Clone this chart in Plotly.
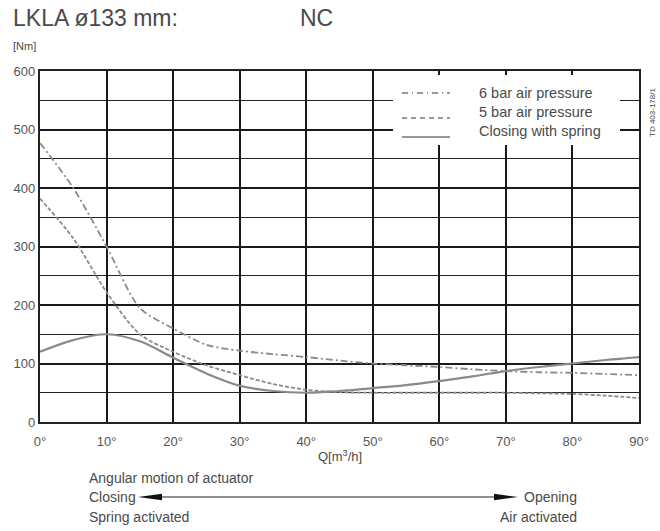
import plotly.graph_objects as go

# ---- data ----
angle = [0, 5, 10, 15, 20, 25, 30, 35, 40, 45, 50, 55, 60, 65, 70, 75, 80, 85, 90]
bar6 = [477, 400, 300, 195, 160, 132, 122, 116, 111, 105, 100, 97, 94, 90, 87, 85, 84, 82, 80]
bar5 = [382, 314, 222, 150, 120, 97, 80, 65, 55, 51, 50, 50, 50, 50, 50, 49, 48, 45, 41]
spring = [120, 140, 150, 138, 110, 83, 62, 53, 50, 53, 58, 63, 70, 78, 87, 94, 100, 106, 111]
xticks = [0, 10, 20, 30, 40, 50, 60, 70, 80, 90]
yticks = [0, 100, 200, 300, 400, 500, 600]

W, H = 660, 531
L, R, T, B = 40, 639, 71, 422


def px(x):
    return (x - L) / (R - L)


def py(y):
    return (B - y) / (B - T)


FONT = "Liberation Sans"
CURVE = "#8d8985"
TXT = "#4a4a4a"

fig = go.Figure()
fig.add_trace(go.Scatter(x=angle, y=bar6, mode="lines", line=dict(color=CURVE, width=1.8, dash="7px,3px,2px,3px", shape="spline", smoothing=0.8), showlegend=False))
fig.add_trace(go.Scatter(x=angle, y=bar5, mode="lines", line=dict(color=CURVE, width=1.8, dash="4px,2px", shape="spline", smoothing=0.8), showlegend=False))
fig.add_trace(go.Scatter(x=angle, y=spring, mode="lines", line=dict(color=CURVE, width=2.2, shape="spline"), showlegend=False))

shapes = []
# white legend box
shapes.append(dict(type="rect", xref="paper", yref="paper", x0=px(393), x1=px(620), y0=py(145), y1=py(75),
                   fillcolor="white", line=dict(width=0), layer="above"))
# legend samples
for yy, dash in [(93, "6px,4px,1px,4px"), (118, "5px,4px"), (137, "solid")]:
    shapes.append(dict(type="line", xref="paper", yref="paper", x0=px(402), x1=px(450), y0=py(yy), y1=py(yy),
                       line=dict(color="#333333", width=1, dash=dash), layer="above"))
# arrow
ay = 497
shapes.append(dict(type="line", xref="paper", yref="paper", x0=px(150), x1=px(506), y0=py(ay), y1=py(ay),
                   line=dict(color="#222222", width=1.1)))


def tri(x_tip, x_base, y, h):
    return (f"M {px(x_tip)},{py(y)} L {px(x_base)},{py(y - h)} L {px(x_base)},{py(y + h)} Z")


shapes.append(dict(type="path", xref="paper", yref="paper", path=tri(138, 162, ay, 3.2),
                   fillcolor="#111111", line=dict(width=0)))
shapes.append(dict(type="path", xref="paper", yref="paper", path=tri(518, 494, ay, 3.2),
                   fillcolor="#111111", line=dict(width=0)))

ann = []


def text(t, x, y, size=14, anchor="left", color=TXT, angle=0):
    ann.append(dict(text=t, x=px(x), y=py(y), xref="paper", yref="paper", xanchor=anchor, yanchor="middle",
                    showarrow=False, font=dict(family=FONT, size=size, color=color), textangle=angle))


text("LKLA ø133 mm:", 11, 18, size=23)
text("NC", 298, 18, size=23)
text("[Nm]", 11, 46, size=11)
text("6 bar air pressure", 477, 93, size=14.5)
text("5 bar air pressure", 477, 112, size=14.5)
text("Closing with spring", 477, 131, size=14.5)
text("TD 403-178/1", 652, 113, size=8, anchor="center", angle=-90)
text("Q[m<sup>3</sup>/h]", 340, 456, size=13, anchor="center")
text("Angular motion of actuator", 87, 478)
text("Closing", 87, 497)
text("Spring activated", 87, 517)
text("Opening", 522, 497)
text("Air activated", 579, 517, anchor="right")

fig.update_layout(
    width=W, height=H,
    margin=dict(l=L, r=W - R, t=T, b=H - B, pad=0),
    paper_bgcolor="white", plot_bgcolor="white",
    shapes=shapes, annotations=ann,
    xaxis=dict(range=[0, 90], tickvals=xticks, ticktext=[f"{v}°" for v in xticks], showgrid=True,
               gridcolor="#1a1a1a", gridwidth=1.5, showline=True, linecolor="#222222", linewidth=2.2,
               mirror=True, zeroline=False, ticks="", ticklabelstandoff=6,
               tickfont=dict(family=FONT, size=13, color="#555555")),
    yaxis=dict(range=[0, 600], tickvals=yticks, showgrid=True, gridcolor="#1a1a1a", gridwidth=1.5,
               minor=dict(dtick=50, tick0=0, showgrid=True, gridcolor="#222222", gridwidth=1.4),
               showline=True, linecolor="#222222", linewidth=2.2, mirror=True, zeroline=False, ticks="",
               tickfont=dict(family=FONT, size=13, color="#555555")),
)

fig.write_html("out.html")
